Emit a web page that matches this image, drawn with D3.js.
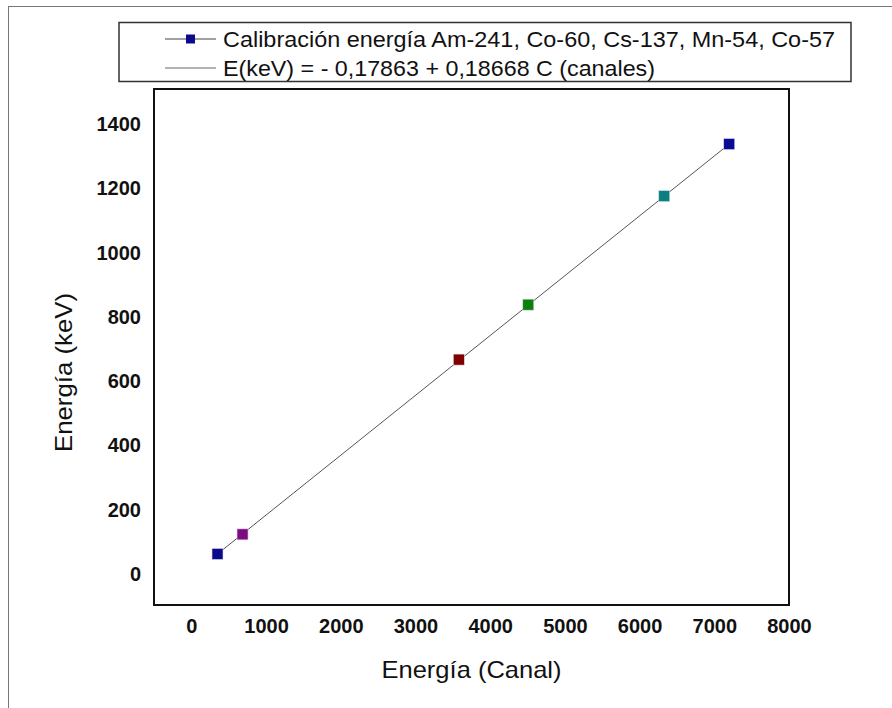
<!DOCTYPE html>
<html>
<head>
<meta charset="utf-8">
<script src="https://cdn.jsdelivr.net/npm/d3@7"></script>
<style>
  html, body { margin: 0; padding: 0; background: #fff; }
  svg { display: block; font-family: "Liberation Sans", Arial, sans-serif; }
</style>
</head>
<body>
<svg id="chart" width="892" height="708"></svg>
<script>
// ---- data ----
const sources = ["Am-241", "Co-57", "Cs-137", "Mn-54", "Co-60", "Co-60"];
const channels = [350, 685, 3580, 4510, 6330, 7200];
const energies = [62, 123, 667, 838, 1176, 1338];
const pointColors = ["#0a0a8a", "#800a80", "#800000", "#0a800a", "#0a8080", "#0a0a96"];
const fitChannels = [350, 7200];
const fitEnergies = [62, 1338];
const xTicks = [0, 1000, 2000, 3000, 4000, 5000, 6000, 7000, 8000];
const yTicks = [0, 200, 400, 600, 800, 1000, 1200, 1400];
const legendLabels = [
  "Calibración energía Am-241, Co-60, Cs-137, Mn-54, Co-57",
  "E(keV) = - 0,17863 + 0,18668 C (canales)"
];
const xTitle = "Energía (Canal)";
const yTitle = "Energía (keV)";

// ---- layout ----
const svg = d3.select("#chart");
const plot = { left: 154, top: 89, right: 789, bottom: 605 };

const x = d3.scaleLinear().domain([-500, 8000]).range([plot.left, plot.right]);
const y = d3.scaleLinear().domain([-100, 1500]).range([606, 92]);

// outer frame
svg.append("rect")
  .attr("x", 8.5).attr("y", 6.5).attr("width", 920).attr("height", 740)
  .attr("fill", "none").attr("stroke", "#777").attr("stroke-width", 1);

// legend box
svg.append("rect")
  .attr("x", 119).attr("y", 22.5).attr("width", 732).attr("height", 59)
  .attr("fill", "#fff").attr("stroke", "#333").attr("stroke-width", 1.5);

const legendRows = [39, 68];
const lg = svg.append("g");
// row 1: line with marker
lg.append("line").attr("x1", 165).attr("x2", 216)
  .attr("y1", legendRows[0]).attr("y2", legendRows[0])
  .attr("stroke", "#444").attr("stroke-width", 1);
lg.append("rect").attr("x", 186).attr("y", legendRows[0] - 4.5)
  .attr("width", 9).attr("height", 9).attr("fill", "#0a0a8a");
// row 2: plain line
lg.append("line").attr("x1", 165).attr("x2", 216)
  .attr("y1", legendRows[1]).attr("y2", legendRows[1])
  .attr("stroke", "#666").attr("stroke-width", 1);
const legendWidths = [612, 432];
legendLabels.forEach((t, i) => {
  lg.append("text")
    .attr("x", 223).attr("y", legendRows[i] + 7.5)
    .attr("font-size", 22).attr("fill", "#111")
    .attr("textLength", legendWidths[i]).attr("lengthAdjust", "spacingAndGlyphs")
    .text(t);
});

// plot frame
svg.append("rect")
  .attr("x", plot.left).attr("y", plot.top)
  .attr("width", plot.right - plot.left).attr("height", plot.bottom - plot.top)
  .attr("fill", "#fff").attr("stroke", "#111").attr("stroke-width", 2);

// axes
const xAxis = svg.append("g")
  .attr("transform", `translate(0,${plot.bottom})`)
  .call(d3.axisBottom(x).tickValues(xTicks).tickSize(0).tickPadding(14).tickFormat(d3.format("d")));
const yAxis = svg.append("g")
  .attr("transform", `translate(${plot.left},0)`)
  .call(d3.axisLeft(y).tickValues(yTicks).tickSize(0).tickPadding(13).tickFormat(d3.format("d")));
[xAxis, yAxis].forEach(a => {
  a.select(".domain").remove();
  a.selectAll("text")
    .attr("font-family", "'Liberation Sans', Arial, sans-serif")
    .attr("font-size", 20).attr("font-weight", "bold").attr("fill", "#111");
});

// fit line
const line = d3.line().x(d => x(d[0])).y(d => y(d[1]));
svg.append("path")
  .datum(d3.zip(fitChannels, fitEnergies))
  .attr("d", line)
  .attr("fill", "none").attr("stroke", "#555").attr("stroke-width", 1);

// points
const ms = 11;
svg.append("g").selectAll("rect")
  .data(d3.range(channels.length))
  .join("rect")
  .attr("x", i => x(channels[i]) - ms / 2)
  .attr("y", i => y(energies[i]) - ms / 2)
  .attr("width", ms).attr("height", ms)
  .attr("fill", i => pointColors[i])
  .attr("stroke", "#d8d8e8").attr("stroke-width", 0.6)
  .append("title").text(i => sources[i]);

// axis titles
svg.append("text")
  .attr("x", 471.5).attr("y", 677.5)
  .attr("text-anchor", "middle").attr("font-size", 24).attr("fill", "#111")
  .attr("textLength", 180).attr("lengthAdjust", "spacingAndGlyphs")
  .text(xTitle);
svg.append("text")
  .attr("transform", "translate(72,372.5) rotate(-90)")
  .attr("text-anchor", "middle").attr("font-size", 24).attr("fill", "#111")
  .attr("textLength", 159).attr("lengthAdjust", "spacingAndGlyphs")
  .text(yTitle);
</script>
</body>
</html>
